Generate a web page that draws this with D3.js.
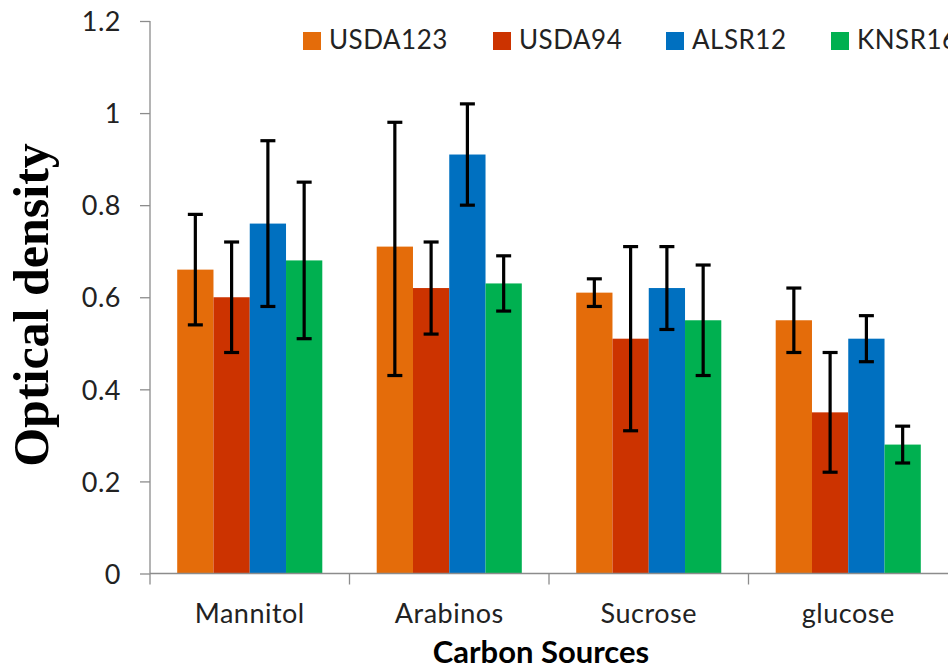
<!DOCTYPE html>
<html lang="en">
<head>
  <meta charset="UTF-8" />
  <title>Optical density by carbon source</title>
  <script src="https://d3js.org/d3.v7.min.js"></script>
  <style>
    body { margin: 0; background: #fff; }
    svg { display: block; }
    .tick text { font-family: Lato, "Open Sans", sans-serif; fill: #222; }
  </style>
</head>
<body>
<svg id="chart" width="948" height="670"></svg>
<script>
const categories = ["Mannitol", "Arabinos", "Sucrose", "glucose"];
const seriesNames = ["USDA123", "USDA94", "ALSR12", "KNSR16"];
const seriesColors = ["#E46C0A", "#CC3300", "#0070C0", "#00B050"];

// mean values per series, one entry per category
const usda123 = [0.66, 0.71, 0.61, 0.55];
const usda94  = [0.60, 0.62, 0.51, 0.35];
const alsr12  = [0.76, 0.91, 0.62, 0.51];
const knsr16  = [0.68, 0.63, 0.55, 0.28];

// error bar ends (low, high)
const usda123Err = [[0.54, 0.78], [0.43, 0.98], [0.58, 0.64], [0.48, 0.62]];
const usda94Err  = [[0.48, 0.72], [0.52, 0.72], [0.31, 0.71], [0.22, 0.48]];
const alsr12Err  = [[0.58, 0.94], [0.80, 1.02], [0.53, 0.71], [0.46, 0.56]];
const knsr16Err  = [[0.51, 0.85], [0.57, 0.69], [0.43, 0.67], [0.24, 0.32]];

const yTicks = [0, 0.2, 0.4, 0.6, 0.8, 1, 1.2];

const values = [usda123, usda94, alsr12, knsr16];
const errors = [usda123Err, usda94Err, alsr12Err, knsr16Err];

const data = [];
categories.forEach((c, ci) => {
  seriesNames.forEach((s, si) => {
    data.push({ cat: c, series: s, value: values[si][ci], lo: errors[si][ci][0], hi: errors[si][ci][1] });
  });
});

const svg = d3.select("#chart");
const plotLeft = 150, plotRight = 948, plotTop = 21, plotBottom = 573.5;

const x = d3.scaleBand().domain(categories).range([plotLeft, plotRight]).paddingInner(0).paddingOuter(0);
const x1 = d3.scaleBand().domain(seriesNames).range([0, x.bandwidth()]).paddingOuter(0.75);
const y = d3.scaleLinear().domain([0, 1.2]).range([plotBottom, plotTop]);
const color = d3.scaleOrdinal().domain(seriesNames).range(seriesColors);

// bars
svg.append("g")
  .selectAll("rect")
  .data(data)
  .join("rect")
    .attr("x", d => x(d.cat) + x1(d.series))
    .attr("y", d => y(d.value))
    .attr("width", x1.bandwidth())
    .attr("height", d => y(0) - y(d.value))
    .attr("fill", d => color(d.series));

// error bars
const err = svg.append("g").attr("stroke", "#000").attr("stroke-width", 3.2);
data.forEach(d => {
  const cx = x(d.cat) + x1(d.series) + x1.bandwidth() / 2;
  err.append("line").attr("x1", cx).attr("x2", cx).attr("y1", y(d.lo)).attr("y2", y(d.hi));
  err.append("line").attr("x1", cx - 7.5).attr("x2", cx + 7.5).attr("y1", y(d.lo)).attr("y2", y(d.lo));
  err.append("line").attr("x1", cx - 7.5).attr("x2", cx + 7.5).attr("y1", y(d.hi)).attr("y2", y(d.hi));
});

// y axis
const yAxis = svg.append("g")
  .attr("transform", `translate(${plotLeft},0)`)
  .call(d3.axisLeft(y).tickValues(yTicks).tickSize(10).tickPadding(19).tickFormat(d3.format("~g")));
yAxis.selectAll("path, line").attr("stroke", "#8c8c8c").attr("stroke-width", 1.3);
yAxis.select(".domain").attr("d", `M0,${plotTop}V${plotBottom}`);
yAxis.selectAll("text").style("font-size", "27px").attr("dy", "0.36em").style("letter-spacing", "0.5px");

// x axis
const xAxis = svg.append("g")
  .attr("transform", `translate(0,${plotBottom})`)
  .call(d3.axisBottom(x).tickSize(0).tickPadding(30));
xAxis.select(".domain").attr("d", `M${plotLeft},0H${plotRight}`).attr("stroke", "#8c8c8c").attr("stroke-width", 1.3);
xAxis.selectAll("text").style("font-size", "27px").attr("dy", "0.71em").style("letter-spacing", "0.5px");
svg.append("g")
  .attr("stroke", "#8c8c8c").attr("stroke-width", 1.3)
  .selectAll("line")
  .data(categories)
  .join("line")
    .attr("x1", d => x(d)).attr("x2", d => x(d))
    .attr("y1", plotBottom).attr("y2", plotBottom + 11);

// axis titles
svg.append("text")
  .attr("transform", `translate(48,305) rotate(-90)`)
  .attr("text-anchor", "middle")
  .style("font-family", "'Liberation Serif', 'DejaVu Serif', serif")
  .style("font-weight", "bold")
  .style("font-size", "50px")
  .text("Optical density");

svg.append("text")
  .attr("x", 541)
  .attr("y", 663)
  .attr("text-anchor", "middle")
  .style("font-family", "Lato, 'Open Sans', sans-serif")
  .style("font-weight", "bold")
  .style("font-size", "31px")
  .attr("fill", "#000")
  .text("Carbon Sources");

// legend (last entry runs off the right edge, as in the original)
const legendX = [303, 493, 666, 831];
const legend = svg.append("g");
seriesNames.forEach((s, i) => {
  const g = legend.append("g").attr("transform", `translate(${legendX[i]},32)`);
  g.append("rect").attr("width", 18).attr("height", 18).attr("fill", seriesColors[i]);
  g.append("text")
    .attr("x", 26).attr("y", 17)
    .style("font-family", "Lato, 'Open Sans', sans-serif")
    .style("font-size", "26px")
    .style("letter-spacing", "0.5px")
    .attr("fill", "#222")
    .text(s);
});
</script>
</body>
</html>
